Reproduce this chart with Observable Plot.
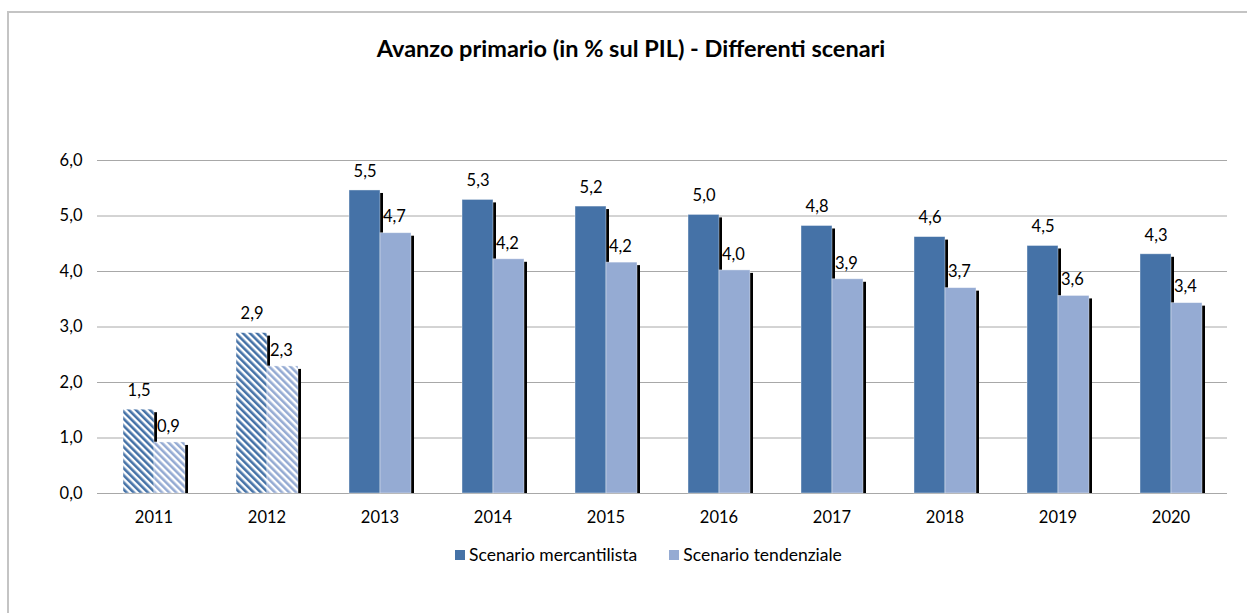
<!DOCTYPE html>
<html>
<head>
<meta charset="utf-8">
<script src="https://cdn.jsdelivr.net/npm/d3@7"></script>
<script src="https://cdn.jsdelivr.net/npm/@observablehq/plot@0.6"></script>
<style>
  body { margin: 0; background: #fff; font-family: Lato, "Open Sans", sans-serif; }
  #wrap { position: relative; width: 1247px; height: 613px; overflow: hidden; background: #fff; }
  #frameTop { position: absolute; left: 7px; top: 11px; width: 1240px; height: 2px; background: #c4c4c4; }
  #frameLeft { position: absolute; left: 7px; top: 11px; width: 2px; height: 602px; background: #c4c4c4; }
  #title { position: absolute; left: 16px; width: 1230px; top: 34px; text-align: center; font-weight: bold; font-size: 23.5px; color: #000; }
  #chart { position: absolute; left: 0; top: 0; }
  #legend { position: absolute; left: 455px; top: 544px; display: flex; align-items: center; font-size: 17.5px; color: #000; }
  .sw { width: 10px; height: 10px; display: inline-block; margin-right: 4px; }
  .item { display: flex; align-items: center; }
</style>
</head>
<body>
<div id="wrap">
  <div id="frameTop"></div>
  <div id="frameLeft"></div>
  <div id="chart"></div>
  <div id="title">Avanzo primario (in % sul PIL) - Differenti scenari</div>
  <div id="legend"></div>
</div>
<script>
const years = [2011, 2012, 2013, 2014, 2015, 2016, 2017, 2018, 2019, 2020];
const mercantilista = [1.51, 2.89, 5.46, 5.29, 5.17, 5.02, 4.82, 4.62, 4.46, 4.31];
const tendenziale = [0.92, 2.29, 4.69, 4.22, 4.16, 4.02, 3.86, 3.70, 3.56, 3.43];
const hatchedYears = [2011, 2012];
const seriesNames = ["Scenario mercantilista", "Scenario tendenziale"];
const seriesColors = ["#4572a7", "#95abd3"];
const hatchIds = ["url(#hatchM)", "url(#hatchT)"];
const yTicks = [0, 1, 2, 3, 4, 5, 6];

const fmt = v => v.toFixed(1).replace(".", ",");

const rows = [];
years.forEach((yr, i) => {
  [mercantilista, tendenziale].forEach((arr, s) => {
    rows.push({
      year: yr,
      series: seriesNames[s],
      value: arr[i],
      fill: hatchedYears.includes(yr) ? hatchIds[s] : seriesColors[s]
    });
  });
});
const rowsM = rows.filter(d => d.series === seriesNames[0]);
const rowsT = rows.filter(d => d.series === seriesNames[1]);

const chart = Plot.plot({
  width: 1247,
  height: 613,
  marginLeft: 97,
  marginRight: 20,
  marginTop: 160,
  marginBottom: 120,
  style: { fontFamily: "Lato, 'Open Sans', sans-serif", fontSize: "16.5px", color: "#000", background: "transparent" },
  fx: { domain: years, padding: 0, tickSize: 0, tickPadding: 18, label: null, tickFormat: d => String(d) },
  x: { domain: seriesNames, axis: null, paddingInner: 0, paddingOuter: 0.766 },
  y: { domain: [0, 6], ticks: yTicks, tickSize: 0, tickPadding: 15, tickFormat: fmt, label: null },
  color: { type: "identity" },
  marks: [
    Plot.ruleY(yTicks, { stroke: "#a8a8a8", strokeWidth: 1 }),
    Plot.barY(rows, { fx: "year", x: "series", y: "value", fill: "black", dx: 3, insetTop: 3 }),
    Plot.barY(rows, { fx: "year", x: "series", y: "value", fill: "fill", stroke: "#ffffff", strokeOpacity: 0.5, strokeWidth: 0.8 }),
    Plot.text(rowsM, { fx: "year", x: "series", y: "value", text: d => fmt(d.value), dy: -19, fill: "#000" }),
    Plot.text(rowsT, { fx: "year", x: "series", y: "value", text: d => fmt(d.value), dy: -16, dx: -13, textAnchor: "start", fill: "#000" })
  ]
});

chart.insertAdjacentHTML("afterbegin",
  `<defs>
    <pattern id="hatchM" patternUnits="userSpaceOnUse" width="5" height="5" patternTransform="rotate(-45)">
      <rect width="5" height="5" fill="#ffffff"/>
      <rect width="2.6" height="5" fill="${seriesColors[0]}"/>
    </pattern>
    <pattern id="hatchT" patternUnits="userSpaceOnUse" width="5" height="5" patternTransform="rotate(-45)">
      <rect width="5" height="5" fill="#ffffff"/>
      <rect width="2.6" height="5" fill="${seriesColors[1]}"/>
    </pattern>
  </defs>`);

document.getElementById("chart").appendChild(chart);

const legend = document.getElementById("legend");
seriesNames.forEach((name, i) => {
  const item = document.createElement("div");
  item.className = "item";
  item.style.marginRight = i === 0 ? "32px" : "0";
  item.innerHTML = `<span class="sw" style="background:${seriesColors[i]}"></span><span>${name}</span>`;
  legend.appendChild(item);
});
</script>
</body>
</html>
